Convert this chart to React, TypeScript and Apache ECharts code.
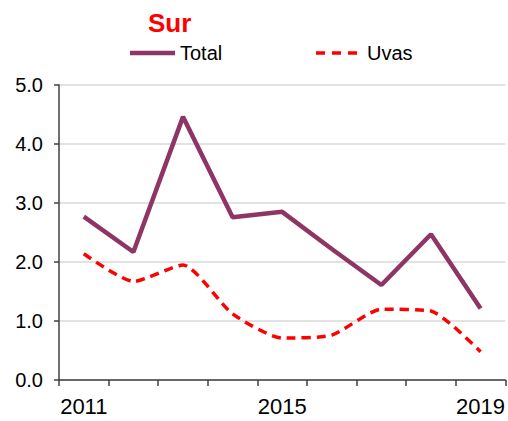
import React, { useEffect, useRef } from "react";
import * as echarts from "echarts";

const years = ["2011", "2012", "2013", "2014", "2015", "2016", "2017", "2018", "2019"];
const total = [2.77, 2.17, 4.46, 2.76, 2.85, 2.22, 1.61, 2.47, 1.21];
const uvas = [2.14, 1.67, 1.95, 1.12, 0.71, 0.76, 1.2, 1.17, 0.48];
const yTicks = [0, 1, 2, 3, 4, 5];
const seriesNames = ["Total", "Uvas"];

export default function App() {
  const ref = useRef<HTMLDivElement>(null);
  useEffect(() => {
    const chart = echarts.init(ref.current!, null, { renderer: "svg" });
    const font = "Liberation Sans, Arial, sans-serif";
    const purple = "#8e3565";
    const red = "#ff0000";
    chart.setOption({
      animation: false,
      backgroundColor: "#ffffff",
      title: {
        text: "Sur",
        left: 143,
        top: 5,
        textStyle: { color: red, fontSize: 26, fontWeight: "bold", fontFamily: font },
      },
      graphic: [
        {
          type: "line",
          shape: { x1: 130, y1: 53, x2: 175, y2: 53 },
          style: { stroke: purple, lineWidth: 4.5 },
        },
        {
          type: "text",
          left: 180,
          top: 43,
          style: { text: seriesNames[0], fontSize: 20, fill: "#000", fontFamily: font },
        },
        {
          type: "line",
          shape: { x1: 316, y1: 53, x2: 357, y2: 53 },
          style: { stroke: red, lineWidth: 3.5, lineDash: [9, 7] },
        },
        {
          type: "text",
          left: 367,
          top: 43,
          style: { text: seriesNames[1], fontSize: 20, fill: "#000", fontFamily: font },
        },
      ],
      grid: { left: 59, right: 2, top: 85, bottom: 41, containLabel: false },
      xAxis: {
        type: "category",
        data: years,
        boundaryGap: true,
        axisLine: { lineStyle: { color: "#404040", width: 1.5 } },
        axisTick: { show: true, length: 6, interval: 0, lineStyle: { color: "#404040", width: 1.5 } },
        axisLabel: {
          interval: 3,
          fontSize: 22,
          color: "#000",
          fontFamily: font,
          margin: 15,
        },
        splitLine: { show: false },
      },
      yAxis: {
        type: "value",
        min: yTicks[0],
        max: yTicks[yTicks.length - 1],
        interval: 1,
        axisLine: { show: true, lineStyle: { color: "#404040", width: 1.5 } },
        axisTick: { show: true, length: 5, lineStyle: { color: "#404040", width: 1.5 } },
        axisLabel: {
          fontSize: 20,
          color: "#000",
          fontFamily: font,
          margin: 16,
          formatter: (v: number) => v.toFixed(1),
        },
        splitLine: { show: true, lineStyle: { color: "#d9d9d9", width: 1.5 } },
      },
      series: [
        {
          name: seriesNames[0],
          type: "line",
          data: total,
          symbol: "none",
          showSymbol: false,
          itemStyle: { color: purple },
          lineStyle: { color: purple, width: 4.5 },
          z: 3,
        },
        {
          name: seriesNames[1],
          type: "line",
          data: uvas,
          symbol: "none",
          showSymbol: false,
          smooth: 0.2,
          itemStyle: { color: red },
          lineStyle: { color: red, width: 3.5, type: [9, 6] },
          z: 2,
        },
      ],
    });
    return () => chart.dispose();
  }, []);
  return (
    <div
      ref={ref}
      style={{ position: "fixed", left: 0, top: 0, width: 508, height: 421, background: "#fff" }}
    />
  );
}
